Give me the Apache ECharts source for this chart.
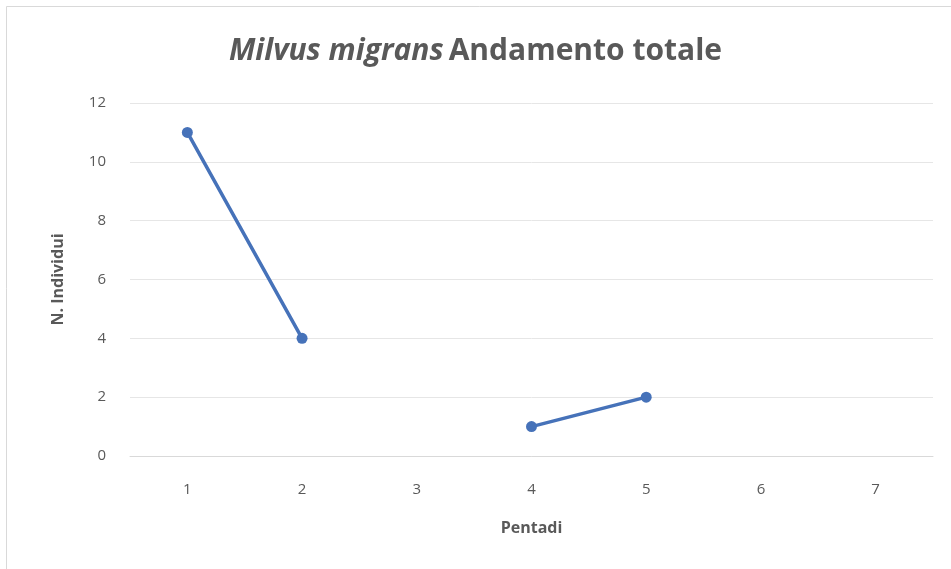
<!DOCTYPE html>
<html>
<head>
  <meta charset="UTF-8">
  <title>Milvus migrans</title>
  <script src="https://cdn.jsdelivr.net/npm/echarts@6/dist/echarts.min.js"></script>
</head>
<body style="margin: 0; background: #ffffff;">
  <div id="main" style="width: 951px; height: 569px;"></div>
  <script>
    // dati
    var pentadi = ['1', '2', '3', '4', '5', '6', '7'];
    var individui = [11, 4, null, 1, 2, null, null];
    var yTicks = { min: 0, max: 12, interval: 2 };

    var chart = echarts.init(document.getElementById('main'));
    var grey = '#595959';
    var font = 'Open Sans';

    chart.setOption({
      backgroundColor: '#ffffff',
      graphic: [{
        type: 'rect',
        shape: { x: 6.5, y: 6.5, width: 950, height: 570 },
        style: { fill: 'none', stroke: '#d9d9d9', lineWidth: 1 },
        silent: true
      }],
      title: {
        text: '{i|Milvus migrans} {b|Andamento totale}',
        left: 'center',
        top: 31,
        textStyle: {
          rich: {
            i: { fontStyle: 'italic', fontWeight: 'bold', fontSize: 30, color: grey, fontFamily: font },
            b: { fontWeight: 'bold', fontSize: 30, color: grey, fontFamily: font }
          }
        }
      },
      grid: { left: 130, right: 18, top: 103, bottom: 113 },
      xAxis: {
        type: 'category',
        data: pentadi,
        name: 'Pentadi',
        nameLocation: 'middle',
        nameGap: 64,
        nameTextStyle: { color: grey, fontSize: 16, fontWeight: 'bold', fontFamily: font },
        axisLine: { show: true, lineStyle: { color: '#d9d9d9' } },
        axisTick: { show: false },
        axisLabel: { color: grey, fontSize: 15, margin: 26, fontFamily: font }
      },
      yAxis: {
        type: 'value',
        min: yTicks.min,
        max: yTicks.max,
        interval: yTicks.interval,
        name: 'N. Individui',
        nameLocation: 'middle',
        nameGap: 64,
        nameRotate: 90,
        nameTextStyle: { color: grey, fontSize: 16, fontWeight: 'bold', fontFamily: font },
        axisLine: { show: false },
        axisTick: { show: false },
        axisLabel: { color: grey, fontSize: 15, margin: 24, fontFamily: font },
        splitLine: { lineStyle: { color: '#e6e6e6', width: 1 } }
      },
      series: [{
        type: 'line',
        data: individui,
        connectNulls: false,
        symbol: 'circle',
        symbolSize: 11,
        lineStyle: { color: '#4672b9', width: 3.5 },
        itemStyle: { color: '#4672b9' },
        animation: false
      }]
    });
  </script>
</body>
</html>
